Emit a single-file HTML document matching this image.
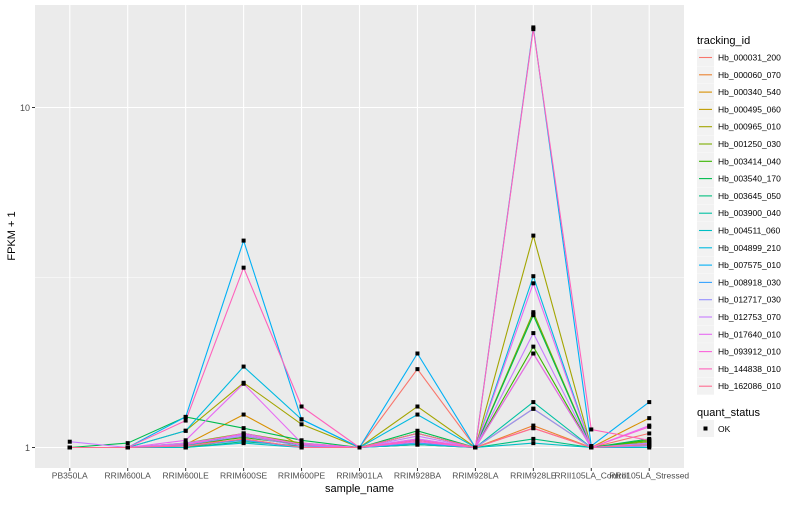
<!DOCTYPE html>
<html><head><meta charset="utf-8"><style>
body{margin:0;background:#fff;font-family:"Liberation Sans",sans-serif}
</style></head><body>
<svg id="c" width="800" height="500" xmlns="http://www.w3.org/2000/svg" font-family="Liberation Sans, sans-serif"></svg>
<script>
const categories=["PB350LA","RRIM600LA","RRIM600LE","RRIM600SE","RRIM600PE","RRIM901LA","RRIM928BA","RRIM928LA","RRIM928LE","RRII105LA_Control","RRII105LA_Stressed"];
const seriesNames=["Hb_000031_200","Hb_000060_070","Hb_000340_540","Hb_000495_060","Hb_000965_010","Hb_001250_030","Hb_003414_040","Hb_003540_170","Hb_003645_050","Hb_003900_040","Hb_004511_060","Hb_004899_210","Hb_007575_010","Hb_008918_030","Hb_012717_030","Hb_012753_070","Hb_017640_010","Hb_093912_010","Hb_144838_010","Hb_162086_010"];
const seriesColors=["#F8766D","#EA8331","#D89000","#C09B00","#A3A500","#7CAE00","#39B600","#00BB4E","#00BF7D","#00C1A3","#00BFC4","#00BAE0","#00B0F6","#35A2FF","#9590FF","#C77CFF","#E76BF3","#FA62DB","#FF62BC","#FF6C91"];
const s0=[1,1,1.02,1.05,1,1,1.70,1,1.14,1,1.10];
const s1=[1,1,1,1.08,1.02,1,1.05,1,1.16,1,1.02];
const s2=[1,1,1.02,1.25,1.01,1,1.03,1,1.30,1,1.22];
const s3=[1,1,1,1.06,1,1,1.02,1,2.47,1,1.03];
const s4=[1,1,1.12,1.55,1.17,1,1.32,1,4.2,1,1.05];
const s5=[1,1,1.03,1.10,1.03,1,1.10,1,2.5,1,1.04];
const s6=[1,1,1.02,1.07,1.02,1,1.05,1,1.98,1,1.05];
const s7=[1,1.03,1.23,1.14,1.05,1,1.12,1,2.45,1,1.06];
const s8=[1,1,1,1.04,1.01,1,1.02,1,1.06,1,1.01];
const s9=[1,1,1.01,1.10,1.02,1,1.10,1,1.36,1,1.02];
const s10=[1,1,1,1.03,1,1,1.02,1,1.03,1,1];
const s11=[1,1,1.12,1.73,1.21,1,1.25,1,3.19,1,1.03];
const s12=[1,1,1.23,4.06,1.21,1,1.89,1,17.2,1.01,1.36];
const s13=[1,1,1.01,1.05,1,1,1.03,1,1.89,1,1.02];
const s14=[1,1,1.02,1.08,1.01,1,1.06,1,1.30,1,1.01];
const s15=[1.04,1,1.03,1.09,1.02,1,1.08,1,2.17,1,1.03];
const s16=[1,1,1.05,1.54,1.03,1,1.06,1,3.04,1,1.16];
const s17=[1,1,1.02,1.10,1.02,1,1.04,1,1.89,1,1.15];
const s18=[1,1,1.20,3.38,1.32,1,1.05,1,17.0,1.13,1.05];
const s19=[1,1,1.01,1.06,1,1,1.10,1,1.14,1,1.02];
const seriesValues=[s0,s1,s2,s3,s4,s5,s6,s7,s8,s9,s10,s11,s12,s13,s14,s15,s16,s17,s18,s19];
const yTicks=[1,10];
const yTickLabels=["1","10"];

const NS="http://www.w3.org/2000/svg";
const svg=document.getElementById('c');
function el(t,a,p){const e=document.createElementNS(NS,t);for(const k in a)e.setAttribute(k,a[k]);(p||svg).appendChild(e);return e;}
const PL=35,PR=684,PT=5,PB=468;
const step=(PR-PL)/(categories.length-1+1.2);
function xs(i){return PL+step*(0.6+i);}
function ys(v){return 447.5-340*Math.log10(v);}

const panel=el('rect',{x:PL,y:PT,width:PR-PL,height:PB-PT,fill:'#EBEBEB'});


// minor grid
const ym=ys(Math.sqrt(10));
const mg=el('line',{x1:PL,x2:PR,y1:ym,y2:ym,stroke:'#fff','stroke-width':0.5});


yTicks.forEach((t,i)=>{
  const y=ys(t);
  const g=el('line',{x1:PL,x2:PR,y1:y,y2:y,stroke:'#fff','stroke-width':1.1});
  
  
  el('line',{x1:PL-3,x2:PL,y1:y,y2:y,stroke:'#333','stroke-width':1});
  const tx=el('text',{x:PL-5,y:y+3.5,'text-anchor':'end','font-size':9,fill:'#4d4d4d'});
  tx.textContent=yTickLabels[i];
  
  
});
categories.forEach((c,i)=>{
  const x=xs(i);
  const g=el('line',{x1:x,x2:x,y1:PT,y2:PB,stroke:'#fff','stroke-width':1.1});
  
  
  el('line',{x1:x,x2:x,y1:PB,y2:PB+3,stroke:'#333','stroke-width':1});
  const tx=el('text',{x:x,y:PB+10.5,'text-anchor':'middle','font-size':8.5,fill:'#4d4d4d'});
  tx.textContent=c;
  
  
});
seriesValues.forEach((vals,si)=>{
  const pts=vals.map((v,i)=>xs(i).toFixed(1)+','+ys(v).toFixed(1)).join(' ');
  const pl=el('polyline',{points:pts,fill:'none',stroke:seriesColors[si],'stroke-width':1.1});
  
  
});
seriesValues.forEach((vals,si)=>{
  vals.forEach((v,i)=>{
    const r=el('rect',{x:xs(i)-2,y:ys(v)-2,width:4,height:4,fill:'#000'});
    
    
  });
});
const yt=el('text',{x:0,y:0,'font-size':11,fill:'#000','text-anchor':'middle',transform:'translate(15,236) rotate(-90)'});
yt.textContent='FPKM + 1';


const xt=el('text',{x:PL+(PR-PL)/2,y:492,'font-size':11,fill:'#000','text-anchor':'middle'});
xt.textContent='sample_name';


// legend
const lt=el('text',{x:697,y:44,'font-size':11,fill:'#000'});
lt.textContent='tracking_id';


seriesNames.forEach((n,i)=>{
  const y=49+i*17.3;
  const g=el('g',{});
  
  
  el('rect',{x:697,y:y,width:17,height:17,fill:'#F2F2F2'},g);
  el('line',{x1:699,x2:712,y1:y+8.5,y2:y+8.5,stroke:seriesColors[i],'stroke-width':1.1},g);
  const t=el('text',{x:718,y:y+11.5,'font-size':8.5,fill:'#000'},g);
  t.textContent=n;
});
const qt=el('text',{x:697,y:416,'font-size':11,fill:'#000'});
qt.textContent='quant_status';


const qg=el('g',{});


el('rect',{x:697,y:420,width:17,height:17,fill:'#F2F2F2'},qg);
el('rect',{x:703.5,y:426.5,width:4,height:4,fill:'#000'},qg);
const ok=el('text',{x:718,y:432,'font-size':8.5,fill:'#000'},qg);
ok.textContent='OK';
</script>
</body></html>
